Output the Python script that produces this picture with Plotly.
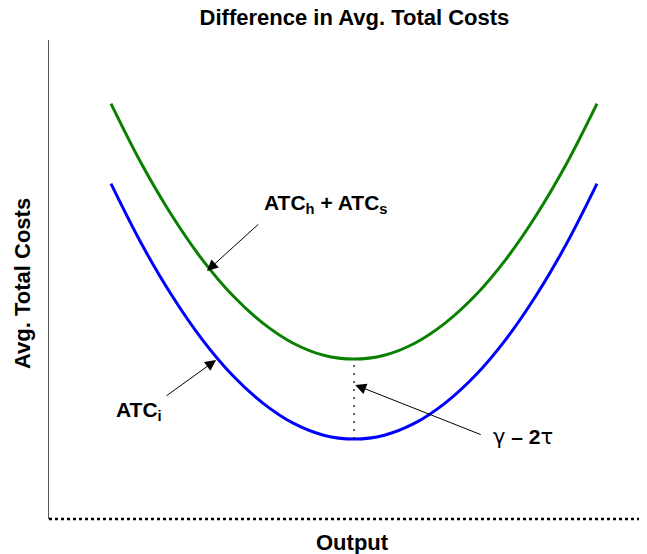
import plotly.graph_objects as go

# Data
output_x = [1, 1.5, 2, 2.5, 3, 3.5, 4, 4.5, 5, 5.5, 6, 6.5, 7, 7.5, 8, 8.5, 9]
atc_i = [7.00, 5.75, 4.67, 3.75, 3.00, 2.42, 2.00, 1.75, 1.67,
         1.75, 2.00, 2.42, 3.00, 3.75, 4.67, 5.75, 7.00]
atc_hs = [8.67, 7.42, 6.34, 5.42, 4.67, 4.09, 3.67, 3.42, 3.34,
          3.42, 3.67, 4.09, 4.67, 5.42, 6.34, 7.42, 8.67]
gap_x = 5
gap_low = 1.67
gap_high = 3.34

FONT = "Liberation Sans, Arial, Helvetica, sans-serif"
GREEK = "DejaVu Sans"

fig = go.Figure()
fig.add_trace(go.Scatter(x=output_x, y=atc_hs, mode="lines",
                         line=dict(color="#0a8000", width=3, shape="spline"),
                         hoverinfo="skip"))
fig.add_trace(go.Scatter(x=output_x, y=atc_i, mode="lines",
                         line=dict(color="#0000ff", width=3, shape="spline"),
                         hoverinfo="skip"))
fig.add_trace(go.Scatter(x=[gap_x, gap_x], y=[gap_low, gap_high], mode="lines",
                         line=dict(color="black", width=1.2, dash="2px,6px"),
                         hoverinfo="skip"))

ann_font = dict(family=FONT, size=21, color="black")
arrow_common = dict(showarrow=True, arrowhead=2, arrowsize=2.2, arrowwidth=1,
                    arrowcolor="black", axref="x", ayref="y", xref="x", yref="y")

fig.add_annotation(x=2.58, y=5.18, ax=3.45, ay=6.18, text="", **arrow_common)
fig.add_annotation(x=2.73, y=3.32, ax=1.89, ay=2.55, text="", **arrow_common)
fig.add_annotation(x=5.02, y=2.80, ax=7.11, ay=1.75, text="", **arrow_common)

fig.add_annotation(x=4.54, y=6.57, xref="x", yref="y", showarrow=False,
                   text="<b>ATC<sub>h</sub> + ATC<sub>s</sub></b>", font=ann_font)
fig.add_annotation(x=1.46, y=2.25, xref="x", yref="y", showarrow=False,
                   text="<b>ATC<sub>i</sub></b>", font=ann_font)
fig.add_annotation(x=7.78, y=1.71, xref="x", yref="y", showarrow=False,
                   text=(f"<span style='font-family:{GREEK}'>γ</span>"
                         f"<b> – 2</b><span style='font-family:{GREEK}'>τ</span>"),
                   font=ann_font)

# axis titles
fig.add_annotation(x=0.51, y=-0.05, xref="paper", yref="paper", showarrow=False,
                   text="<b>Output</b>", font=dict(family=FONT, size=22, color="black"),
                   xanchor="center", yanchor="middle")
fig.add_annotation(x=-0.0453, y=0.4906, xref="paper", yref="paper", showarrow=False,
                   text="<b>Avg. Total Costs</b>", textangle=-90,
                   xanchor="center", yanchor="middle",
                   font=dict(family=FONT, size=22, color="black"))

# dotted bottom axis
fig.add_shape(type="line", xref="paper", yref="paper", x0=0, x1=1, y0=0, y1=0,
              line=dict(color="black", width=2.5, dash="3px,3px"))

fig.update_layout(
    width=647, height=554,
    margin=dict(l=41, r=10, t=32, b=43),
    paper_bgcolor="white", plot_bgcolor="white",
    showlegend=False,
    title=dict(text="<b>Difference in Avg. Total Costs</b>",
               x=0.5355, xref="container", xanchor="center",
               y=1 - 9 / 554, yref="container", yanchor="middle",
               font=dict(family=FONT, size=22, color="black")),
    xaxis=dict(range=[-0.02, 9.79], showgrid=False, zeroline=False,
               showticklabels=False, ticks="", showline=False),
    yaxis=dict(range=[0, 10], showgrid=False, zeroline=False,
               showticklabels=False, ticks="", showline=True,
               linecolor="#555", linewidth=1),
)

fig.write_html("out.html")
